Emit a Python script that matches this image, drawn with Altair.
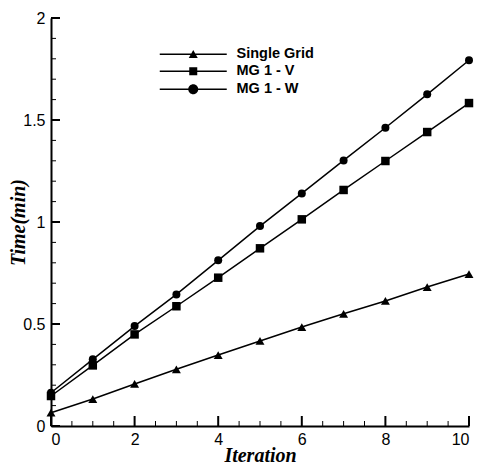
import altair as alt
import pandas as pd

iterations = [0, 1, 2, 3, 4, 5, 6, 7, 8, 9, 10]
single_grid = [0.065, 0.132, 0.206, 0.278, 0.348, 0.417, 0.485, 0.55, 0.613, 0.681, 0.745]
mg_v = [0.147, 0.297, 0.449, 0.587, 0.727, 0.871, 1.013, 1.157, 1.299, 1.441, 1.583]
mg_w = [0.163, 0.327, 0.49, 0.645, 0.812, 0.98, 1.14, 1.302, 1.462, 1.626, 1.793]
series_names = ["Single Grid", "MG 1 - V", "MG 1 - W"]
x_major_ticks = [0, 2, 4, 6, 8, 10]
x_minor_ticks = [0.5, 1, 1.5, 2.5, 3, 3.5, 4.5, 5, 5.5, 6.5, 7, 7.5, 8.5, 9, 9.5]
y_major_ticks = [0, 0.5, 1, 1.5, 2]
y_minor_ticks = [0.1, 0.2, 0.3, 0.4, 0.6, 0.7, 0.8, 0.9, 1.1, 1.2, 1.3, 1.4,
                 1.6, 1.7, 1.8, 1.9]

W, H = 418, 408

rows = []
for name, vals in zip(series_names, [single_grid, mg_v, mg_w]):
    for it, v in zip(iterations, vals):
        rows.append({"Iteration": it, "Time": v, "series": name})
df = pd.DataFrame(rows)
legend_df = pd.DataFrame({"entry": series_names})

x_enc = alt.X(
    "Iteration:Q",
    scale=alt.Scale(domain=[0, 10], nice=False, zero=False),
    axis=alt.Axis(
        title="Iteration",
        values=x_major_ticks,
        format=".1~f",
        ticks=False,
        labelPadding=5,
        titleBaseline="alphabetic",
        titleY=35,
    ),
)
y_enc = alt.Y(
    "Time:Q",
    scale=alt.Scale(domain=[0, 2], nice=False, zero=False),
    axis=alt.Axis(
        title="Time(min)",
        values=y_major_ticks,
        format=".1~f",
        ticks=False,
        labelPadding=6,
        titleBaseline="alphabetic",
        titleAngle=270,
        titleAlign="center",
        titleX=-27,
        titleY=H / 2,
    ),
)

lines = alt.Chart(df).mark_line(color="black", strokeWidth=1.5).encode(
    x=x_enc, y=y_enc, detail="series:N"
)

points = alt.Chart(df).mark_point(filled=True, color="black", opacity=1).encode(
    x=x_enc,
    y=y_enc,
    shape=alt.Shape(
        "series:N",
        scale=alt.Scale(domain=series_names, range=["triangle-up", "square", "circle"]),
        legend=None,
    ),
    size=alt.Size(
        "series:N",
        scale=alt.Scale(domain=series_names, range=[80, 64, 110]),
        legend=None,
    ),
)

xmaj = alt.Chart(pd.DataFrame({"Iteration": x_major_ticks})).mark_rule(
    color="black", strokeWidth=2
).encode(x=x_enc, y=alt.value(H), y2=alt.value(H - 10))
xmin = alt.Chart(pd.DataFrame({"Iteration": x_minor_ticks})).mark_rule(
    color="black", strokeWidth=1
).encode(x=x_enc, y=alt.value(H), y2=alt.value(H - 5))
ymaj = alt.Chart(pd.DataFrame({"Time": y_major_ticks})).mark_rule(
    color="black", strokeWidth=2
).encode(y=y_enc, x=alt.value(0), x2=alt.value(9))
ymin = alt.Chart(pd.DataFrame({"Time": y_minor_ticks})).mark_rule(
    color="black", strokeWidth=1
).encode(y=y_enc, x=alt.value(0), x2=alt.value(5))

# legend symbols: a thin filled bar (the line) with the marker in its middle (unit = 5 px)
legend_paths = [
    "M-6.7,-0.15H6.7V0.15H-6.7ZM-0.9,0.75L0,-0.85L0.9,0.75Z",
    "M-6.7,-0.15H6.7V0.15H-6.7ZM-0.8,-0.8H0.8V0.8H-0.8Z",
    "M-6.7,-0.15H6.7V0.15H-6.7ZM-1,0A1,1 0 1,1 1,0A1,1 0 1,1 -1,0Z",
]

legend_layer = alt.Chart(legend_df).mark_point(
    filled=True, fill="black", opacity=0, size=100
).encode(
    shape=alt.Shape(
        "entry:N",
        scale=alt.Scale(domain=series_names, range=legend_paths),
        legend=alt.Legend(
            title=None,
            orient="none",
            legendX=135,
            legendY=29,
            padding=0,
            symbolSize=100,
            symbolOpacity=1,
            symbolFillColor="black",
            labelFont="Liberation Sans",
            labelFontWeight="bold",
            labelFontSize=14.5,
            labelColor="black",
            labelOffset=36,
            rowPadding=2,
        ),
    )
)

chart = (
    alt.layer(lines, points, xmaj, xmin, ymaj, ymin, legend_layer)
    .resolve_scale(shape="independent")
    .properties(
        width=W,
        height=H,
        padding={"left": 51, "top": 18, "right": 10, "bottom": 38},
        autosize=alt.AutoSizeParams(type="none"),
    )
    .configure_view(stroke=None)
    .configure_axis(
        grid=False,
        domainColor="black",
        domainWidth=2,
        labelColor="black",
        labelFont="Liberation Sans",
        labelFontSize=16,
        titleColor="black",
        titleFont="Liberation Serif",
        titleFontSize=20,
        titleFontStyle="italic",
        titleFontWeight="bold",
    )
)

chart.save("out.html", embed_options={"renderer": "svg", "actions": False})
